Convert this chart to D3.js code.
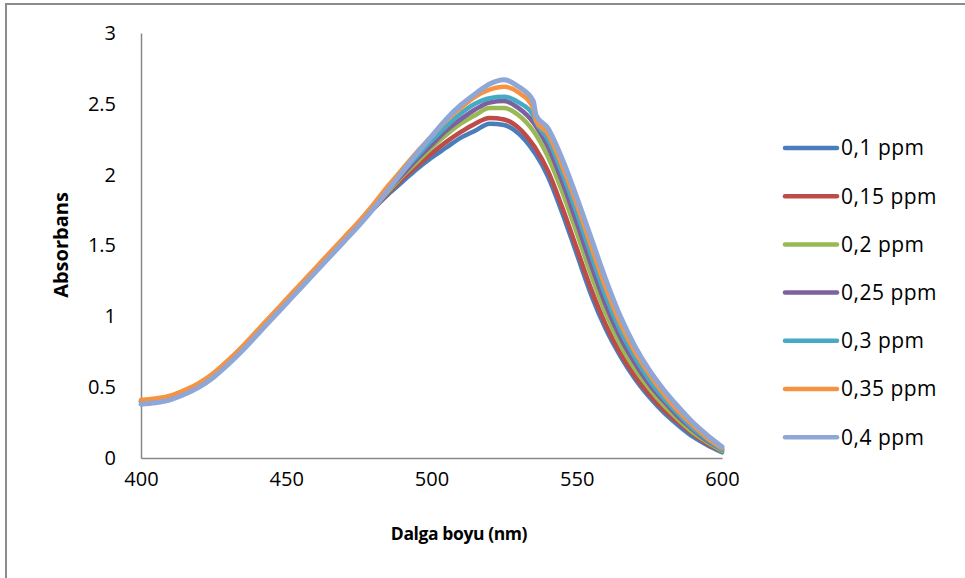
<!DOCTYPE html>
<html>
<head>
<meta charset="utf-8">
<script src="https://cdn.jsdelivr.net/npm/d3@7"></script>
<style>
  body { margin: 0; background: #fff; }
  svg text { font-family: "Open Sans", sans-serif; fill: #000; }
</style>
</head>
<body>
<svg id="chart"></svg>
<script>
// wavelength (nm)
const wavelengths = [400, 405, 410, 415, 420, 425, 430, 435, 440, 445, 450, 455, 460, 465, 470, 475,
  480, 485, 490, 495, 500, 505, 510, 515, 520, 525, 530, 535, 536, 540, 545, 550, 555, 560, 565,
  570, 575, 580, 585, 590, 595, 600];

// absorbance, one array per concentration
const s01 = [0.40, 0.41, 0.43, 0.47, 0.52, 0.59, 0.68, 0.78, 0.89, 1.00, 1.11, 1.22, 1.33, 1.44, 1.55, 1.66,
  1.76, 1.86, 1.95, 2.04, 2.12, 2.19, 2.26, 2.31, 2.36, 2.35, 2.29, 2.17, 2.14, 1.99, 1.73, 1.44, 1.15, 0.91, 0.72,
  0.56, 0.43, 0.32, 0.23, 0.15, 0.09, 0.04];
const s015 = [0.40, 0.41, 0.43, 0.47, 0.52, 0.59, 0.68, 0.78, 0.89, 1.00, 1.11, 1.22, 1.33, 1.44, 1.55, 1.66,
  1.76, 1.87, 1.97, 2.06, 2.15, 2.23, 2.30, 2.36, 2.40, 2.39, 2.33, 2.21, 2.18, 2.03, 1.77, 1.48, 1.19, 0.94, 0.74,
  0.58, 0.45, 0.34, 0.25, 0.17, 0.10, 0.05];
const s02 = [0.40, 0.41, 0.43, 0.47, 0.52, 0.59, 0.68, 0.78, 0.89, 1.00, 1.11, 1.22, 1.33, 1.44, 1.55, 1.66,
  1.77, 1.88, 1.99, 2.09, 2.19, 2.28, 2.36, 2.42, 2.47, 2.47, 2.42, 2.31, 2.28, 2.13, 1.88, 1.59, 1.29, 1.02, 0.80,
  0.63, 0.49, 0.37, 0.27, 0.18, 0.11, 0.05];
const s025 = [0.40, 0.41, 0.43, 0.47, 0.52, 0.59, 0.68, 0.78, 0.89, 1.00, 1.11, 1.22, 1.33, 1.44, 1.55, 1.66,
  1.77, 1.89, 2.00, 2.11, 2.21, 2.31, 2.39, 2.46, 2.51, 2.52, 2.47, 2.37, 2.34, 2.20, 1.95, 1.66, 1.36, 1.08, 0.85,
  0.67, 0.52, 0.40, 0.29, 0.20, 0.12, 0.06];
const s03 = [0.40, 0.41, 0.43, 0.47, 0.52, 0.59, 0.68, 0.78, 0.89, 1.00, 1.11, 1.22, 1.33, 1.44, 1.55, 1.66,
  1.78, 1.90, 2.02, 2.13, 2.24, 2.34, 2.43, 2.50, 2.54, 2.55, 2.51, 2.42, 2.37, 2.25, 2.01, 1.73, 1.43, 1.14, 0.90,
  0.71, 0.55, 0.42, 0.31, 0.21, 0.13, 0.06];
const s035 = [0.41, 0.42, 0.44, 0.48, 0.53, 0.60, 0.69, 0.79, 0.90, 1.01, 1.12, 1.23, 1.34, 1.45, 1.56, 1.67,
  1.79, 1.92, 2.04, 2.16, 2.27, 2.38, 2.47, 2.55, 2.60, 2.62, 2.58, 2.47, 2.38, 2.29, 2.06, 1.79, 1.49, 1.20, 0.95,
  0.75, 0.59, 0.45, 0.33, 0.23, 0.14, 0.07];
const s04 = [0.38, 0.39, 0.41, 0.45, 0.50, 0.57, 0.66, 0.76, 0.87, 0.98, 1.09, 1.20, 1.31, 1.42, 1.53, 1.64,
  1.76, 1.89, 2.02, 2.15, 2.27, 2.39, 2.49, 2.57, 2.64, 2.67, 2.62, 2.52, 2.42, 2.33, 2.11, 1.84, 1.55, 1.26, 1.00,
  0.79, 0.62, 0.48, 0.36, 0.25, 0.16, 0.08];

const seriesNames = ["0,1 ppm", "0,15 ppm", "0,2 ppm", "0,25 ppm", "0,3 ppm", "0,35 ppm", "0,4 ppm"];
const seriesValues = [s01, s015, s02, s025, s03, s035, s04];
const colors = ["#4A7EBB", "#BE4B48", "#98B954", "#7D60A0", "#46AAC5", "#F69240", "#8EA7D6"];

const xTicks = [400, 450, 500, 550, 600];
const yTicks = [0, 0.5, 1, 1.5, 2, 2.5, 3];

const W = 965, H = 578;
const plot = {left: 141, right: 722, top: 33, bottom: 458};

const svg = d3.select("#chart")
  .attr("width", W)
  .attr("height", H);

// chart area frame (cropped on right and bottom)
svg.append("path")
  .attr("d", "M6," + H + "V4H" + W)
  .attr("fill", "none")
  .attr("stroke", "#8c8c8c")
  .attr("stroke-width", 2);

const x = d3.scaleLinear().domain([400, 600]).range([plot.left, plot.right]);
const y = d3.scaleLinear().domain([0, 3]).range([plot.bottom, plot.top]);

// axes
const xAxis = svg.append("g")
  .attr("transform", "translate(0," + plot.bottom + ")")
  .call(d3.axisBottom(x).tickValues(xTicks).tickSize(0).tickPadding(14));
const yAxis = svg.append("g")
  .attr("transform", "translate(" + plot.left + ",0)")
  .call(d3.axisLeft(y).tickValues(yTicks).tickSize(0).tickPadding(25).tickFormat(d3.format("")));

[xAxis, yAxis].forEach(function(g) {
  g.select(".domain").attr("stroke", "#888").attr("stroke-width", 1.5);
  g.selectAll("text").attr("font-size", 20).attr("fill", "#000")
    .style("font-family", "'Open Sans', sans-serif");
});

// lines
const line = d3.line()
  .x(function(d) { return x(d[0]); })
  .y(function(d) { return y(d[1]); })
  .curve(d3.curveMonotoneX);

seriesValues.forEach(function(vals, i) {
  const pts = wavelengths.map(function(w, j) { return [w, vals[j]]; });
  svg.append("path")
    .datum(pts)
    .attr("fill", "none")
    .attr("stroke", colors[i])
    .attr("stroke-width", i === 6 ? 5 : 4.5)
    .attr("stroke-linejoin", "round")
    .attr("stroke-linecap", "round")
    .attr("d", line);
});

// axis titles
svg.append("text")
  .attr("x", 459)
  .attr("y", 540)
  .attr("text-anchor", "middle")
  .attr("font-size", 17.5)
  .attr("font-weight", "bold")
  .attr("letter-spacing", -0.4)
  .text("Dalga boyu (nm)");

svg.append("text")
  .attr("transform", "translate(68,245) rotate(-90)")
  .attr("text-anchor", "middle")
  .attr("font-size", 20)
  .attr("font-weight", "bold")
  .text("Absorbans");

// legend
const legend = svg.append("g").attr("transform", "translate(785,148)");
seriesNames.forEach(function(name, i) {
  const g = legend.append("g").attr("transform", "translate(0," + (i * 48.2) + ")");
  g.append("line")
    .attr("x1", 0).attr("x2", 52)
    .attr("stroke", colors[i])
    .attr("stroke-width", 4.5)
    .attr("stroke-linecap", "round");
  g.append("text")
    .attr("x", 56)
    .attr("dy", "0.35em")
    .attr("font-size", 21)
    .attr("letter-spacing", 0.5)
    .text(name);
});
</script>
</body>
</html>
